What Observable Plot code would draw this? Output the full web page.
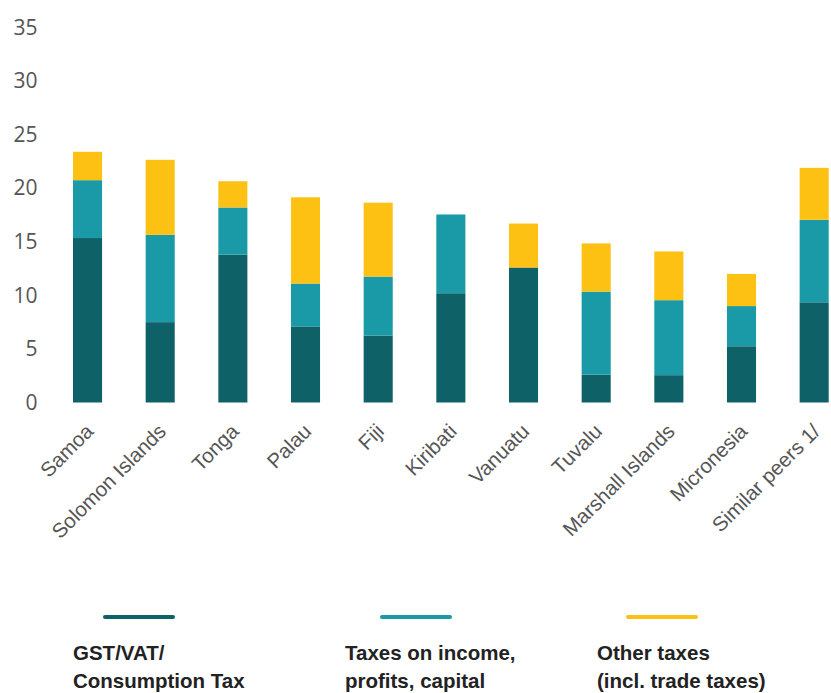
<!DOCTYPE html>
<html><head><meta charset="utf-8">
<script src="https://cdn.jsdelivr.net/npm/d3@7"></script>
<script src="https://cdn.jsdelivr.net/npm/@observablehq/plot@0.6"></script>
<style>
body{margin:0;background:#fff}
#wrap{position:relative;width:831px;height:693px;overflow:hidden;background:#fff}
#wrap svg{position:absolute;left:0;top:0}
.leg-line{position:absolute;height:4px;width:72px;border-radius:2px;top:615px}
.leg-text{position:absolute;top:639px;font:bold 20.5px/28px "Liberation Sans",Arial,sans-serif;color:#222;white-space:nowrap}
</style></head><body><div id="wrap"></div>
<script>
const countries = ["Samoa","Solomon Islands","Tonga","Palau","Fiji","Kiribati","Vanuatu","Tuvalu","Marshall Islands","Micronesia","Similar peers 1/"];
const gst    = [15.35, 7.5, 13.8, 7.1, 6.25, 10.2, 12.6, 2.6, 2.55, 5.25, 9.35];
const income = [5.4, 8.15, 4.4, 4.0, 5.5, 7.35, 0, 7.75, 7.0, 3.75, 7.7];
const other  = [2.65, 7.0, 2.45, 8.05, 6.9, 0, 4.1, 4.5, 4.55, 3.0, 4.85];
const seriesNames = ["GST/VAT/ Consumption Tax", "Taxes on income, profits, capital", "Other taxes (incl. trade taxes)"];
const legendLines = [["GST/VAT/", "Consumption Tax"], ["Taxes on income,", "profits, capital"], ["Other taxes", "(incl. trade taxes)"]];
const colors = ["#0f6168", "#199aa6", "#fcc113"];
const yTicks = [0, 5, 10, 15, 20, 25, 30, 35];

const seriesValues = [gst, income, other];
const data = [];
countries.forEach((c, i) => {
  seriesValues.forEach((vals, s) => data.push({country: c, series: seriesNames[s], value: vals[i]}));
});

const chart = Plot.plot({
  width: 831, height: 600,
  marginTop: 27.5, marginBottom: 197.5, marginLeft: 73, marginRight: 2.3,
  x: {domain: countries, paddingInner: 0.6, paddingOuter: 0, round: false, label: null},
  y: {domain: [0, 35], label: null},
  color: {domain: seriesNames, range: colors},
  style: {background: "white", overflow: "visible"},
  marks: [
    Plot.barY(data, {x: "country", y: "value", fill: "series", order: seriesNames}),
    Plot.axisY({ticks: yTicks, tickSize: 0, tickPadding: 36, fontSize: 21, fill: "#555", label: null, fontFamily: "'Open Sans', sans-serif"}),
    Plot.axisX({tickSize: 0, tickRotate: -45, tickPadding: 25, dx: 2, fontSize: 20.5, fill: "#555", label: null, fontFamily: "'Liberation Sans', Arial, sans-serif"})
  ]
});
const wrap = document.getElementById("wrap");
wrap.appendChild(chart);

const lineX = [103, 380, 626];
const textX = [73, 345, 597];
legendLines.forEach((lines, i) => {
  const l = document.createElement("div");
  l.className = "leg-line";
  l.style.left = lineX[i] + "px";
  l.style.background = colors[i];
  wrap.appendChild(l);
  const t = document.createElement("div");
  t.className = "leg-text";
  t.style.left = textX[i] + "px";
  t.innerHTML = lines.join("<br>");
  wrap.appendChild(t);
});
</script></body></html>
